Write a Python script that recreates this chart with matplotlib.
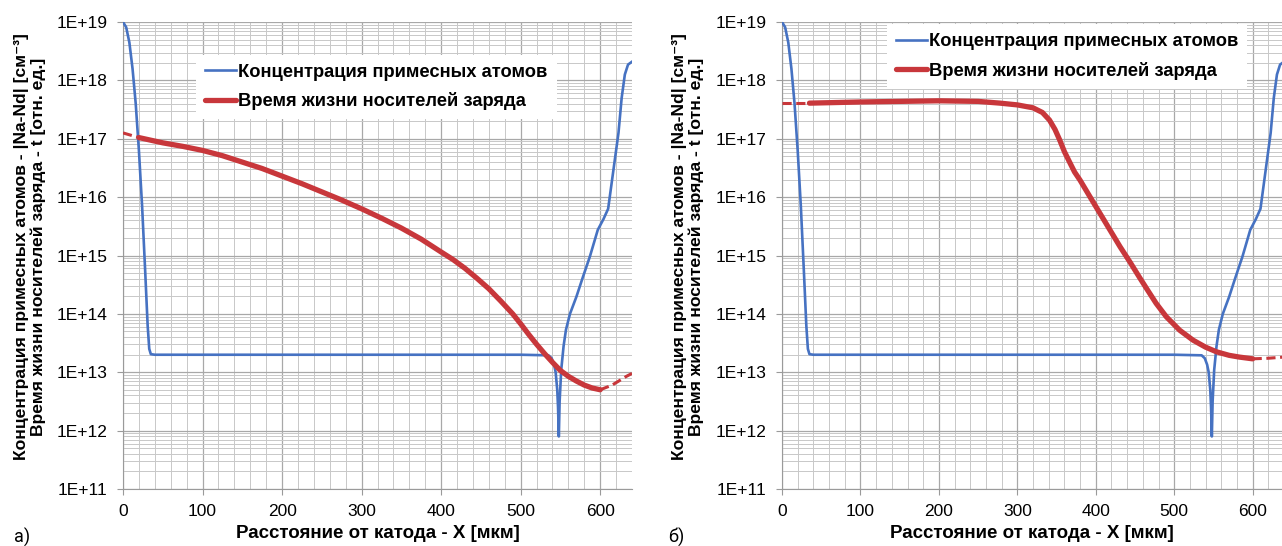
import numpy as np
import matplotlib
matplotlib.use('Agg')
import matplotlib.pyplot as plt
from matplotlib.ticker import FixedLocator, MultipleLocator, FuncFormatter, LogLocator, NullFormatter

plt.rcParams['font.family'] = ['Liberation Sans', 'DejaVu Sans']

# концентрация примесных атомов (одинаковая на обоих графиках)
conc_x = [0, 4, 8, 12, 16, 20, 24, 28, 31, 33, 35, 40, 100, 200, 300, 400, 500, 535,
          539, 542, 544, 546, 547, 548, 549, 551, 554, 557, 562, 570, 578, 587, 597,
          604, 610, 614, 618, 623, 627, 631, 635, 640]
conc_log = [19.0, 18.91, 18.65, 18.2, 17.6, 16.8, 15.85, 14.7, 13.8, 13.4, 13.31, 13.3,
            13.3, 13.3, 13.3, 13.3, 13.3, 13.29, 13.24, 13.13, 13.0, 12.7, 12.4, 11.9,
            12.5, 13.04, 13.45, 13.73, 14.0, 14.29, 14.62, 14.98, 15.44, 15.62, 15.8,
            16.2, 16.6, 17.1, 17.7, 18.1, 18.27, 18.32]

# время жизни, график а)
tau_a_x = [20, 50, 75, 100, 125, 150, 175, 200, 225, 250, 275, 300, 325, 350, 375, 400,
           415, 430, 445, 460, 475, 490, 500, 510, 520, 530, 540, 550, 560, 570, 580,
           590, 600]
tau_a_log = [17.02, 16.93, 16.87, 16.8, 16.71, 16.6, 16.49, 16.36, 16.23, 16.09, 15.95,
             15.8, 15.64, 15.47, 15.28, 15.06, 14.93, 14.78, 14.61, 14.43, 14.22, 14.0,
             13.83, 13.65, 13.48, 13.32, 13.17, 13.03, 12.93, 12.85, 12.78, 12.73, 12.7]
tau_a_dash_x = [0, 20]
tau_a_dash_log = [17.1, 17.02]
tau_a_tail_x = [600, 615, 633, 640]
tau_a_tail_log = [12.7, 12.78, 12.93, 12.98]

# время жизни, график б)
tau_b_x = [35, 100, 200, 250, 278, 300, 320, 332, 341, 348, 354, 360, 367, 373, 380, 392,
           405, 418, 431, 444, 456, 465, 477, 490, 507, 524, 540, 554, 570, 583, 600]
tau_b_log = [17.61, 17.63, 17.65, 17.64, 17.61, 17.58, 17.53, 17.45, 17.32, 17.16, 16.98,
             16.78, 16.59, 16.43, 16.29, 16.02, 15.73, 15.44, 15.15, 14.88, 14.62, 14.43,
             14.18, 13.95, 13.72, 13.55, 13.43, 13.35, 13.29, 13.26, 13.23]
tau_b_dash_x = [0, 35]
tau_b_dash_log = [17.61, 17.61]
tau_b_tail_x = [600, 620, 640]
tau_b_tail_log = [13.23, 13.24, 13.26]

BLUE = '#4672c2'
RED = '#c8373b'
W, H = 1282, 546

fig = plt.figure(figsize=(W / 100, H / 100), dpi=100, facecolor='white')
ax1 = fig.add_axes([123 / W, 57 / H, 509 / W, 467 / H])
ax2 = fig.add_axes([782 / W, 57 / H, 502 / W, 467 / H])


def sci(v, pos):
    return '1E+%02d' % int(round(np.log10(v)))


def setup(ax):
    ax.set_yscale('log')
    ax.set_xlim(0, 640)
    ax.set_ylim(1e11, 1e19)
    ax.yaxis.set_major_locator(FixedLocator([10.0 ** k for k in range(11, 20)]))
    ax.yaxis.set_minor_locator(LogLocator(base=10, subs=np.arange(2, 10), numticks=20))
    ax.yaxis.set_major_formatter(FuncFormatter(sci))
    ax.yaxis.set_minor_formatter(NullFormatter())
    ax.xaxis.set_major_locator(MultipleLocator(100))
    ax.xaxis.set_minor_locator(MultipleLocator(20))
    ax.grid(which='major', color='#a8a8a8', lw=0.9)
    ax.grid(which='minor', color='#c8c8c8', lw=0.7)
    ax.set_axisbelow(True)
    for s in ['top', 'right']:
        ax.spines[s].set_visible(False)
    for s in ['left', 'bottom']:
        ax.spines[s].set_color('#9a9a9a')
    ax.tick_params(which='major', length=4, color='#9a9a9a', labelsize=12.5, pad=7)
    ax.tick_params(which='minor', length=0)


def draw(ax, tx, tl, dx, dl, ex, el):
    hb, = ax.plot(conc_x, 10.0 ** np.array(conc_log), color=BLUE, lw=1.9, zorder=3)
    ax.plot(dx, 10.0 ** np.array(dl), color=RED, lw=2.2, ls=(0, (3, 1.5)), zorder=4)
    ax.plot(ex, 10.0 ** np.array(el), color=RED, lw=2.2, ls=(0, (3, 1.5)), zorder=4)
    hr, = ax.plot(tx, 10.0 ** np.array(tl), color=RED, lw=3.8, zorder=4,
                  solid_capstyle='round', solid_joinstyle='round')
    return hb, hr


labels = ['Концентрация примесных атомов', 'Время жизни носителей заряда']

for ax, data, anchor in [
        (ax1, (tau_a_x, tau_a_log, tau_a_dash_x, tau_a_dash_log, tau_a_tail_x, tau_a_tail_log),
         (0.125, 0.95)),
        (ax2, (tau_b_x, tau_b_log, tau_b_dash_x, tau_b_dash_log, tau_b_tail_x, tau_b_tail_log),
         (0.19, 1.015))]:
    setup(ax)
    hb, hr = draw(ax, *data)
    leg = ax.legend([hb, hr], labels, loc='upper left', bbox_to_anchor=anchor,
                    frameon=True, facecolor='white', edgecolor='none', framealpha=1,
                    fancybox=False, prop={'weight': 'bold', 'size': 13.2},
                    handlelength=1.7, handletextpad=0.1, labelspacing=0.62,
                    borderpad=0.5)
    leg.set_zorder(5)

ylab = 'Концентрация примесных атомов - |Na-Nd| [см⁻³]\nВремя жизни носителей заряда - t [отн. ед.]'
xlab = 'Расстояние от катода - X [мкм]'
for xc, xl in [(30, 378), (688, 1032)]:
    fig.text(xc / W, 1 - 247 / H, ylab, rotation=90, ha='center', va='center',
             fontsize=12.6, fontweight='bold', multialignment='center', linespacing=1.05)
    fig.text(xl / W, 1 - 533 / H, xlab, ha='center', va='center',
             fontsize=13.5, fontweight='bold')

fig.text(14 / W, 1 - 537 / H, 'а)', ha='left', va='center', fontsize=13,
         family=['Liberation Sans Narrow', 'Roboto', 'DejaVu Sans'])
fig.text(668 / W, 1 - 537 / H, 'б)', ha='left', va='center', fontsize=13,
         family=['Liberation Sans Narrow', 'Roboto', 'DejaVu Sans'])

fig.savefig('out.png', dpi=100, facecolor='white')
